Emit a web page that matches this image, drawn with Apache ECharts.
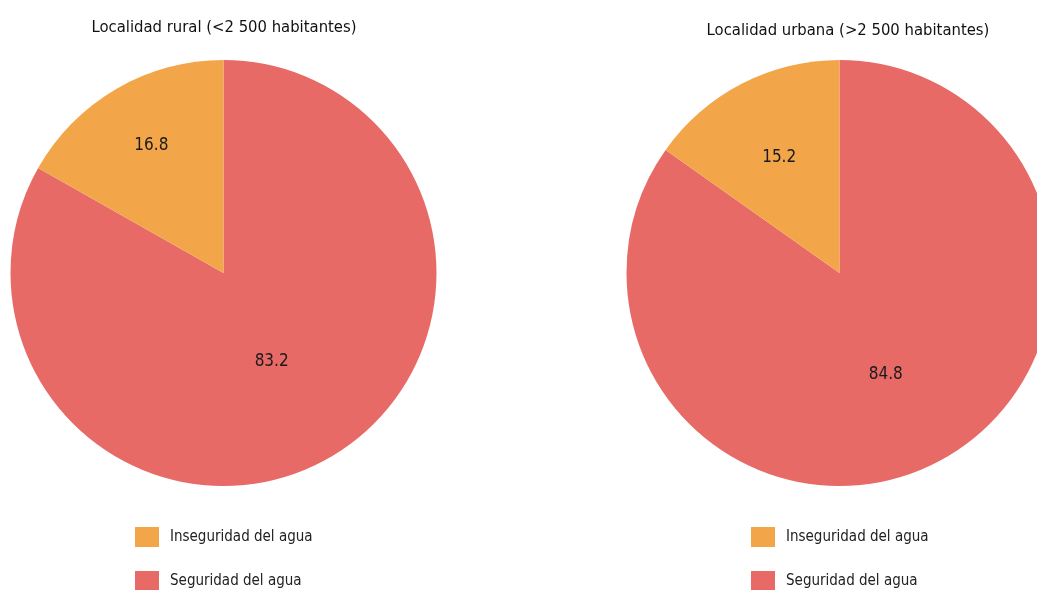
<!DOCTYPE html>
<html>
<head>
<meta charset="utf-8">
<script src="https://cdn.jsdelivr.net/npm/echarts@6/dist/echarts.min.js"></script>
<style>
  body { margin: 0; padding: 0; background: #fff; }
  #chart { width: 1037px; height: 590px; }
</style>
</head>
<body>
<div id="chart"></div>
<script>
// data
var categories = ['Seguridad del agua', 'Inseguridad del agua'];
var legendOrder = ['Inseguridad del agua', 'Seguridad del agua'];
var ruralValues = [83.2, 16.8];
var urbanValues = [84.8, 15.2];
var panelTitles = ['Localidad rural (<2 500 habitantes)', 'Localidad urbana (>2 500 habitantes)'];

// condensed face via the weight slot of the canvas font shorthand
var FONT = '"DejaVu Sans", sans-serif';
var STRETCH = 'condensed';
var TEXT = '#1a1a1a';
var colors = { 'Seguridad del agua': '#E76A67', 'Inseguridad del agua': '#F2A649' };

// nudge labels so they sit where the reference has them
var labelOffsets = [
  [[-7, -6], [-17, -33]],
  [[-4, 4], [-10, -18]]
];

function pieSeries(values, center, offsets) {
  return {
    type: 'pie',
    center: center,
    radius: 213,
    startAngle: 90,
    clockwise: true,
    silent: true,
    label: {
      show: true,
      position: 'inside',
      color: TEXT,
      fontFamily: FONT,
      fontWeight: STRETCH,
      fontSize: 17,
      formatter: function (p) { return p.value.toFixed(1); }
    },
    labelLine: { show: false },
    itemStyle: { borderWidth: 0 },
    data: categories.map(function (c, i) {
      return {
        name: c,
        value: values[i],
        itemStyle: { color: colors[c] },
        label: { offset: offsets[i] }
      };
    })
  };
}

// one legend per entry, stacked like the reference
function legendAt(left, idx) {
  return {
    left: left,
    top: 527 + idx * 44,
    data: [legendOrder[idx]],
    icon: 'rect',
    itemWidth: 24,
    itemHeight: 20,
    padding: 0,
    selectedMode: false,
    textStyle: {
      fontFamily: FONT, fontWeight: STRETCH, fontSize: 15, color: '#222',
      padding: [2, 0, 0, 6]
    }
  };
}

function titleAt(text, left, top) {
  return {
    text: text, left: left, top: top, textAlign: 'center', padding: 0,
    textStyle: { fontFamily: FONT, fontSize: 16.5, fontWeight: STRETCH, color: '#111' }
  };
}

var chart = echarts.init(document.getElementById('chart'));
chart.setOption({
  animation: false,
  title: [titleAt(panelTitles[0], 224, 19), titleAt(panelTitles[1], 848, 22)],
  legend: [legendAt(135, 0), legendAt(135, 1), legendAt(751, 0), legendAt(751, 1)],
  series: [
    pieSeries(ruralValues, [223.5, 273], labelOffsets[0]),
    pieSeries(urbanValues, [839.5, 273], labelOffsets[1])
  ]
});
</script>
</body>
</html>
